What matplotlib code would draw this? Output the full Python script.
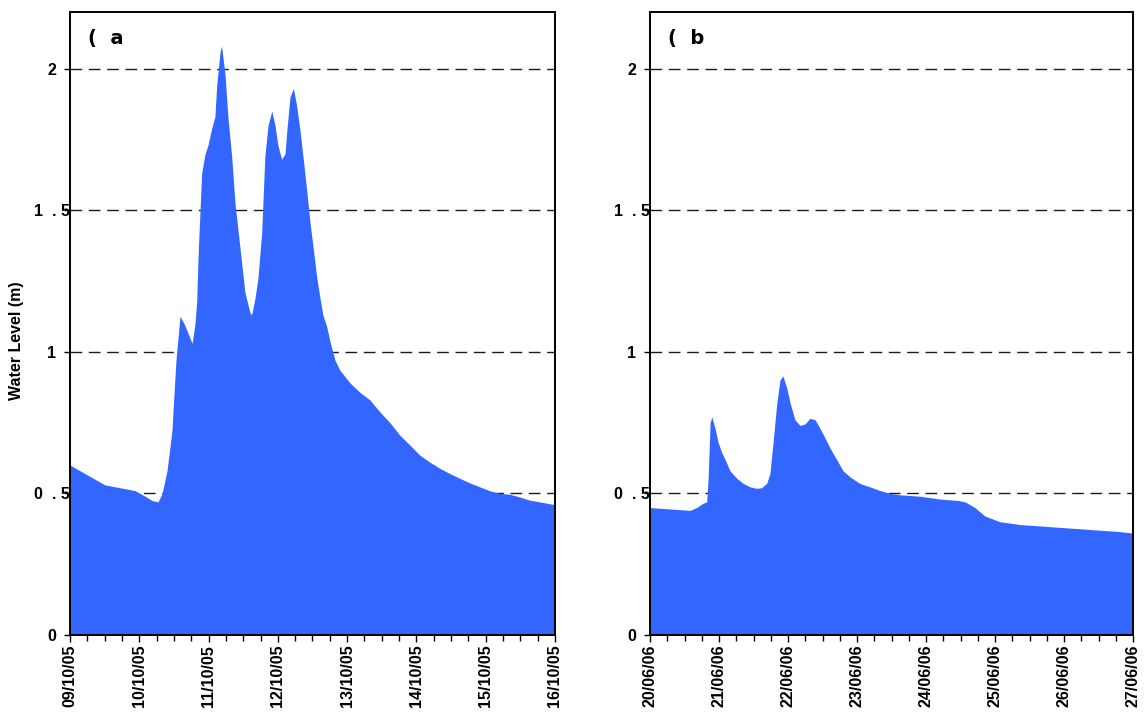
import numpy as np
from matplotlib import pyplot as plt

# hours since start of each record, water level (m)
hours_a = [0, 6.9, 12.1, 17.3, 22.5, 26.0, 28.4, 30.5, 31.9, 33.6, 35.3, 36.7,
           38.1, 39.5, 42.3, 43.3, 43.9, 44.3, 45.0, 45.6, 46.1, 46.8, 47.8,
           49.1, 50.2, 50.8, 52.0, 52.5, 53.7, 54.7, 56.0, 57.2, 58.2, 59.5,
           60.6, 62.3, 62.9, 64.1, 65.1, 66.4, 67.5, 68.6, 69.9, 71.0, 72.0,
           73.3, 74.5, 75.1, 76.2, 77.4, 78.5, 79.7, 80.7, 82.0, 83.1, 84.2,
           85.5, 86.6, 87.6, 88.9, 90.1, 91.8, 93.5, 97.0, 100.4, 103.9, 107.4,
           110.8, 114.3, 117.8, 121.2, 124.7, 128.2, 131.6, 135.1, 138.5, 142.0,
           145.5, 148.9, 152.4, 155.9, 159.3, 162.8, 168.0]
level_a = [0.60, 0.56, 0.53, 0.52, 0.51, 0.49, 0.475, 0.47, 0.50, 0.58, 0.72, 0.97,
           1.125, 1.10, 1.03, 1.10, 1.18, 1.32, 1.49, 1.63, 1.66, 1.70, 1.73,
           1.79, 1.83, 1.94, 2.06, 2.08, 1.98, 1.83, 1.69, 1.52, 1.43, 1.31,
           1.21, 1.14, 1.13, 1.19, 1.26, 1.42, 1.69, 1.80, 1.85, 1.80, 1.73,
           1.68, 1.70, 1.78, 1.90, 1.93, 1.87, 1.78, 1.69, 1.57, 1.46, 1.37,
           1.26, 1.19, 1.13, 1.09, 1.035, 0.97, 0.935, 0.89, 0.857, 0.83, 0.787,
           0.75, 0.705, 0.67, 0.635, 0.61, 0.588, 0.57, 0.553, 0.537, 0.523,
           0.509, 0.50, 0.497, 0.487, 0.476, 0.47, 0.46]

hours_b = [0, 7.0, 13.9, 16.2, 18.4, 19.7, 20.2, 20.9, 21.5, 22.6, 23.7, 24.9,
           26.1, 27.8, 30.2, 32.3, 34.8, 37.1, 38.8, 40.6, 41.7, 42.8, 44.1,
           45.2, 46.2, 47.5, 48.7, 50.4, 52.2, 53.9, 55.6, 57.4, 59.1, 60.9,
           62.6, 64.9, 67.1, 69.6, 73.0, 76.5, 80.0, 83.5, 87.0, 93.9, 100.9,
           107.1, 109.6, 113.0, 116.5, 121.7, 128.7, 135.7, 142.6, 149.6,
           156.5, 163.5, 168.0]
level_b = [0.45, 0.445, 0.44, 0.45, 0.465, 0.47, 0.55, 0.75, 0.77, 0.73, 0.68, 0.645,
           0.62, 0.58, 0.553, 0.536, 0.523, 0.518, 0.52, 0.536, 0.57, 0.68, 0.82,
           0.90, 0.915, 0.875, 0.82, 0.76, 0.74, 0.745, 0.765, 0.76, 0.73, 0.695,
           0.66, 0.62, 0.58, 0.558, 0.535, 0.523, 0.51, 0.50, 0.495, 0.49, 0.48,
           0.475, 0.47, 0.45, 0.42, 0.40, 0.39, 0.385, 0.38, 0.375,
           0.37, 0.365, 0.36]

dates_a = ['09/10/05', '10/10/05', '11/10/05', '12/10/05',
           '13/10/05', '14/10/05', '15/10/05', '16/10/05']
dates_b = ['20/06/06', '21/06/06', '22/06/06', '23/06/06',
           '24/06/06', '25/06/06', '26/06/06', '27/06/06']
ytick_vals = [0, 0.5, 1, 1.5, 2]
ytick_labels = ['0', '0  . 5', '1', '1  . 5', '2']

plt.rcParams['font.family'] = ['Liberation Sans', 'DejaVu Sans']
plt.rcParams['font.weight'] = 'bold'

fig = plt.figure(figsize=(11.44, 7.13), dpi=100)
ax_a = fig.add_axes([0.0612, 0.1094, 0.4239, 0.8738])
ax_b = fig.add_axes([0.5682, 0.1094, 0.4222, 0.8738])

for ax, hrs, lev, dates, tag in [(ax_a, hours_a, level_a, dates_a, '(  a'),
                                 (ax_b, hours_b, level_b, dates_b, '(  b')]:
    ax.fill_between(hrs, lev, 0, color='#3366ff', lw=0)
    ax.set_xlim(0, 168)
    ax.set_ylim(0, 2.2)
    for v in ytick_vals[1:]:
        ax.axhline(v, color='#1a1a1a', lw=1, ls=(0, (8.4, 4.8)), zorder=0.5)
    ax.set_yticks(ytick_vals)
    ax.set_yticklabels(ytick_labels, fontsize=11.5, fontweight='bold')
    for lab in ax.get_yticklabels():
        lab.set_horizontalalignment('center')
    ax.set_xticks(np.arange(0, 169, 24))
    ax.set_xticks(np.arange(0, 169, 6), minor=True)
    ax.set_xticklabels(dates, rotation=90, fontsize=11.5, fontweight='bold')
    ax.tick_params(axis='x', which='major', length=5, width=1, pad=2)
    ax.tick_params(axis='y', which='major', length=4, width=1, pad=9)
    ax.tick_params(axis='x', which='minor', length=4, width=1)
    for s in ax.spines.values():
        s.set_linewidth(1.4)
    ax.text(0.037, 0.973, tag, transform=ax.transAxes, fontsize=14,
            fontweight='bold', va='top', ha='left', family='DejaVu Sans')

ax_a.set_ylabel('Water Level (m)', fontsize=11.5, fontweight='bold')
ax_a.yaxis.set_label_coords(-0.095, 0.472)

plt.savefig('out.png', dpi=100)
